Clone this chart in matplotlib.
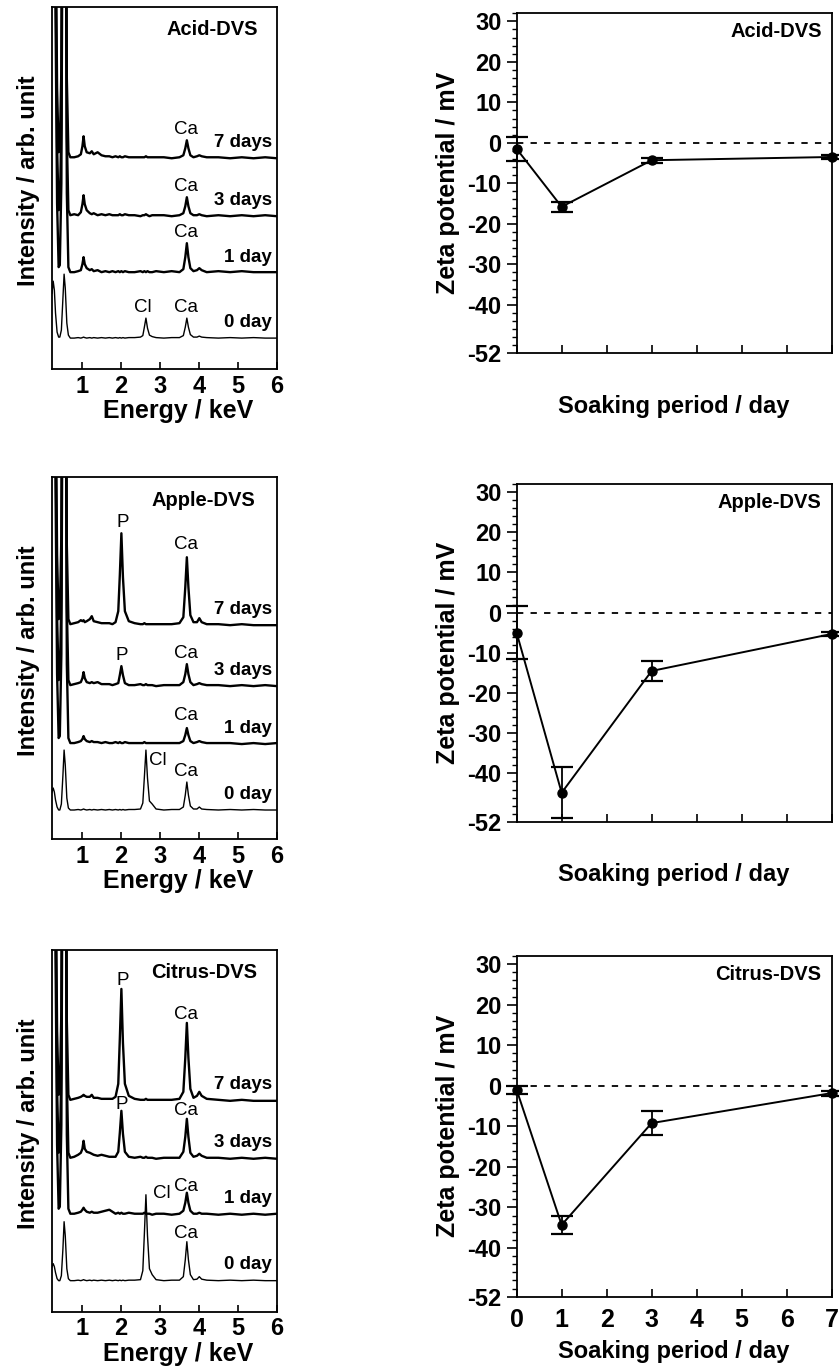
import numpy as np
import matplotlib.pyplot as plt
from matplotlib.ticker import MultipleLocator

plt.rcParams['font.family'] = ['Liberation Sans', 'DejaVu Sans']
plt.rcParams['font.weight'] = 'bold'
plt.rcParams['axes.labelweight'] = 'bold'
plt.rcParams['axes.unicode_minus'] = False

# ------ EDS spectra ------
# energy grid (keV); intensities are read above each trace's own baseline
energy = [0.23, 0.26, 0.29, 0.32, 0.36, 0.40, 0.43, 0.47, 0.51, 0.54, 0.57, 0.61, 0.65, 0.70,
          0.80, 0.90, 0.97, 1.01, 1.04, 1.07, 1.12, 1.20, 1.25, 1.30, 1.40, 1.50, 1.60, 1.70, 1.78, 1.86,
          1.93, 1.97, 2.01, 2.05, 2.10, 2.20,
          2.35, 2.50, 2.56, 2.60, 2.64, 2.68, 2.73, 2.80, 2.90,
          3.10, 3.30, 3.50, 3.60, 3.65, 3.69, 3.73, 3.78, 3.86,
          3.95, 4.01, 4.07, 4.20, 4.50, 4.80, 5.10, 5.40, 5.70, 6.00]

# C and O peaks that run off the top of the plot
sat_low = [600, 600, 520, 260, 70, 6, 8, 90, 480, 600, 520, 80, 6, 1]
flat_b = [0, 0.5, 0, 0.5, 1, 0.5, 0, 0.5, 0, 0.5, 0, 0.5, 0, 0.5, 0, 0.5]
flat_c = [0, 0.5, 0, 0.5, 0, 0.5]

acid_0d = ([45, 57, 48, 25, 6, 1, 1, 8, 40, 64, 50, 15, 3, 0] + flat_b + flat_c +
           [0.5, 1, 2.5, 11, 20, 10, 3, 1.5, 0.5] +
           [0, 0.5, 0.5, 2.5, 11, 20, 11, 3.5, 1] +
           [1, 2, 1, 0.5, 0, 0.5, 0, 0.5, 0, 0])
acid_1d = (sat_low + [1, 2, 3, 9, 16, 9, 5, 3, 4, 2, 3, 1, 2, 1, 2, 1] +
           [2, 1, 2, 1, 2, 1] +
           [1, 2, 1, 2, 1, 2, 1, 1, 2] +
           [1, 2, 1, 4, 16, 30, 16, 5, 2] +
           [3, 5, 3, 1, 2, 1, 2, 1, 1, 1])
acid_3d = (sat_low + [2, 1, 4, 12, 21, 12, 6, 3, 2, 3, 1, 2, 1, 2, 1, 1] +
           [1, 2, 1, 1, 2, 1] +
           [1, 0, 1, 1, 2, 1, 0, 1, 1] +
           [1, 0, 1, 3, 10, 19, 10, 3, 1] +
           [1, 2, 1, 0, 1, 0, 1, 0, 1, 0])
acid_7d = (sat_low + [1, 2, 4, 12, 22, 12, 6, 5, 7, 4, 6, 3, 2, 2, 1, 2] +
           [1, 2, 1, 1, 2, 1] +
           [1, 1, 1, 1, 2, 1, 1, 1, 1] +
           [1, 0, 1, 3, 10, 18, 10, 3, 1] +
           [2, 3, 2, 1, 1, 0, 1, 0, 1, 0])

apple_0d = ([18, 22, 18, 10, 3, 0, 0, 6, 35, 60, 45, 12, 2, 0] + flat_b + flat_c +
            [0.5, 1, 7, 33, 60, 32, 9, 6, 1] +
            [0, 0.5, 0.5, 3, 15, 28, 15, 4, 1] +
            [1, 3, 1, 0.5, 0, 0.5, 0, 0.5, 0, 0])
apple_1d = (sat_low + [1, 2, 3, 5, 8, 5, 3, 2, 3, 2, 2, 1, 2, 1, 1, 2] +
            [1, 2, 1, 1, 2, 1] +
            [1, 1, 1, 2, 1, 1, 1, 1, 1] +
            [1, 1, 1, 3, 9, 16, 9, 3, 1] +
            [2, 3, 2, 1, 1, 1, 0, 1, 0, 1])
apple_3d = (sat_low + [2, 3, 4, 8, 14, 8, 4, 3, 4, 3, 4, 2, 2, 2, 1, 2] +
            [3, 11, 20, 11, 3, 1] +
            [1, 2, 1, 1, 2, 1, 1, 1, 0] +
            [1, 1, 1, 4, 12, 22, 12, 4, 1] +
            [2, 3, 2, 1, 1, 0, 1, 0, 1, 0])
apple_7d = (sat_low + [2, 3, 5, 4, 5, 3, 4, 6, 9, 4, 3, 2, 2, 2, 1, 3] +
            [14, 50, 92, 48, 14, 4] +
            [2, 1, 1, 2, 1, 1, 1, 1, 1] +
            [1, 1, 2, 8, 38, 68, 38, 10, 3] +
            [3, 7, 3, 1, 1, 0, 1, 0, 0, 0])

citrus_0d = ([14, 17, 14, 8, 2, 0, 0, 5, 32, 59, 45, 12, 2, 0] + flat_b + flat_c +
             [0.5, 1, 10, 47, 86, 45, 12, 6, 1] +
             [0, 0.5, 0.5, 4, 21, 39, 21, 6, 1] +
             [1.5, 4, 1.5, 0.5, 0, 0.5, 0, 0.5, 0, 0])
citrus_1d = (sat_low + [1, 2, 3, 5, 7, 5, 3, 2, 3, 2, 2, 3, 4, 5, 3, 1] +
             [2, 1, 2, 1, 1, 2] +
             [1, 1, 1, 2, 1, 1, 1, 0, 1] +
             [1, 0, 1, 4, 12, 22, 12, 4, 1] +
             [1, 2, 1, 1, 0, 1, 0, 1, 0, 1])
citrus_3d = (sat_low + [2, 4, 6, 10, 18, 10, 7, 6, 5, 4, 3, 4, 3, 2, 2, 2] +
             [7, 26, 48, 25, 7, 2] +
             [1, 2, 1, 1, 2, 1, 1, 1, 0] +
             [1, 1, 1, 7, 22, 40, 22, 6, 2] +
             [3, 5, 3, 1, 1, 0, 1, 0, 1, 0])
citrus_7d = (sat_low + [2, 3, 4, 5, 6, 5, 4, 4, 6, 3, 3, 2, 2, 2, 2, 4] +
             [17, 62, 112, 58, 17, 5] +
             [2, 1, 1, 1, 2, 1, 1, 1, 1] +
             [1, 1, 2, 9, 43, 78, 43, 12, 3] +
             [5, 9, 5, 2, 1, 0, 1, 0, 0, 0])

day_names = ['0 day', '1 day', '3 days', '7 days']
samples = ['Acid-DVS', 'Apple-DVS', 'Citrus-DVS']
spectra = [[acid_0d, acid_1d, acid_3d, acid_7d],
           [apple_0d, apple_1d, apple_3d, apple_7d],
           [citrus_0d, citrus_1d, citrus_3d, citrus_7d]]
baselines = [[31, 96, 153, 211], [29, 95, 153, 214], [31, 97, 153, 211]]

# peak labels: text, energy, trace, dx, dy, ha, va
peak_labels = [
    [('Ca', 3.69, 3, -0.02, 2, 'center', 'bottom'), ('Ca', 3.69, 2, -0.02, 2, 'center', 'bottom'),
     ('Ca', 3.69, 1, -0.02, 2, 'center', 'bottom'), ('Ca', 3.69, 0, -0.02, 2, 'center', 'bottom'),
     ('Cl', 2.64, 0, -0.08, 2, 'center', 'bottom')],
    [('P', 2.01, 3, 0.03, 2, 'center', 'bottom'), ('Ca', 3.69, 3, -0.02, 4, 'center', 'bottom'),
     ('P', 2.01, 2, 0.0, 2, 'center', 'bottom'), ('Ca', 3.69, 2, -0.02, 2, 'center', 'bottom'),
     ('Ca', 3.69, 1, -0.02, 4, 'center', 'bottom'), ('Ca', 3.69, 0, -0.02, 2, 'center', 'bottom'),
     ('Cl', 2.64, 0, 0.08, -10, 'left', 'center')],
    [('P', 2.01, 3, 0.03, 0, 'center', 'bottom'), ('Ca', 3.69, 3, -0.02, 0, 'center', 'bottom'),
     ('P', 2.01, 2, 0.0, -2, 'center', 'bottom'), ('Ca', 3.69, 2, -0.02, 0, 'center', 'bottom'),
     ('Ca', 3.69, 1, -0.02, -2, 'center', 'bottom'), ('Ca', 3.69, 0, -0.02, 0, 'center', 'bottom'),
     ('Cl', 2.64, 0, 0.18, 1, 'left', 'center')],
]

# ------ Zeta potential ------
days = [0, 1, 3, 7]
zeta_acid = [-1.5, -15.8, -4.3, -3.5]
err_acid = [2.9, 1.2, 0.6, 0.6]
zeta_apple = [-5.0, -44.8, -14.5, -5.3]
err_apple = [6.6, 6.4, 2.5, 0.6]
zeta_citrus = [-1.0, -34.3, -9.2, -1.8]
err_citrus = [1.0, 2.2, 3.0, 0.6]
zetas = [zeta_acid, zeta_apple, zeta_citrus]
errs = [err_acid, err_apple, err_citrus]

fig = plt.figure(figsize=(8.39, 13.72), dpi=100)

eds_bottoms = [0.731, 0.3885, 0.0440]
zeta_boxes = [(0.7425, 0.2478), (0.4011, 0.2461), (0.0549, 0.2483)]
name_pos = [(0.917, 0.939), (0.904, 0.935), (0.911, 0.939)]

for r in range(3):
    # EDS panel
    ax = fig.add_axes([0.062, eds_bottoms[r], 0.268, 0.2636])
    for k in range(4):
        lw = 1.0 if k == 0 else 1.7
        ax.plot(energy, np.array(spectra[r][k]) + baselines[r][k], color='k', lw=lw)
        ax.text(5.87, baselines[r][k] + 16, day_names[k], ha='right', va='center', fontsize=13.5)
    for txt, e, k, dx, dy, ha, va in peak_labels[r]:
        y = baselines[r][k] + np.interp(e, energy, spectra[r][k]) + dy
        ax.text(e + dx, y, txt, ha=ha, va=va, fontsize=13.5, fontweight='normal')
    ax.text(name_pos[r][0], name_pos[r][1], samples[r], transform=ax.transAxes,
            ha='right', va='center', fontsize=14.5)
    ax.set_xlim(0.23, 6.0)
    ax.set_ylim(0, 362)
    ax.set_yticks([])
    ax.set_xticks([1, 2, 3, 4, 5, 6])
    ax.tick_params(axis='x', direction='in', length=5, width=1.2, labelsize=17, pad=4)
    ax.set_xlabel('Energy / keV', fontsize=18, labelpad=1)
    ax.xaxis.label.set_x(0.56)
    ax.set_ylabel('Intensity / arb. unit', fontsize=17, labelpad=9)
    ax.yaxis.label.set_y(0.52)
    for s in ax.spines.values():
        s.set_linewidth(1.3)

    # Zeta potential panel
    bz, hz = zeta_boxes[r]
    az = fig.add_axes([0.6158, bz, 0.3754, hz])
    az.axhline(0, color='k', lw=1.3, ls=(0, (3.5, 4)))
    cont = az.errorbar(days, zetas[r], yerr=errs[r], fmt='-o', color='k', lw=1.4, ms=6.5,
                       capsize=8, capthick=1.6, elinewidth=1.3)
    for art in cont.get_children():
        art.set_clip_on(False)
    az.set_xlim(0, 7)
    az.set_ylim(-52, 32)
    az.set_yticks([30, 20, 10, 0, -10, -20, -30, -40, -52])
    az.yaxis.set_minor_locator(MultipleLocator(2))
    az.set_xticks([0, 1, 2, 3, 4, 5, 6, 7])
    az.tick_params(axis='y', which='major', direction='out', length=7, width=1.2,
                   labelsize=17, pad=4)
    az.tick_params(axis='y', which='minor', direction='out', length=3.5, width=1.0)
    az.tick_params(axis='x', direction='in', length=6, width=1.2, labelsize=18, pad=8)
    az.set_ylabel('Zeta potential / mV', fontsize=18, labelpad=5)
    if r < 2:
        az.tick_params(axis='x', labelbottom=False)
        az.set_xlabel('Soaking period / day', fontsize=17, labelpad=30)
    else:
        az.set_xlabel('Soaking period / day', fontsize=17, labelpad=6)
    az.text(0.968, 0.946, samples[r], transform=az.transAxes, ha='right', va='center',
            fontsize=14.5)
    for s in az.spines.values():
        s.set_linewidth(1.3)

fig.savefig('out.png', dpi=100)
